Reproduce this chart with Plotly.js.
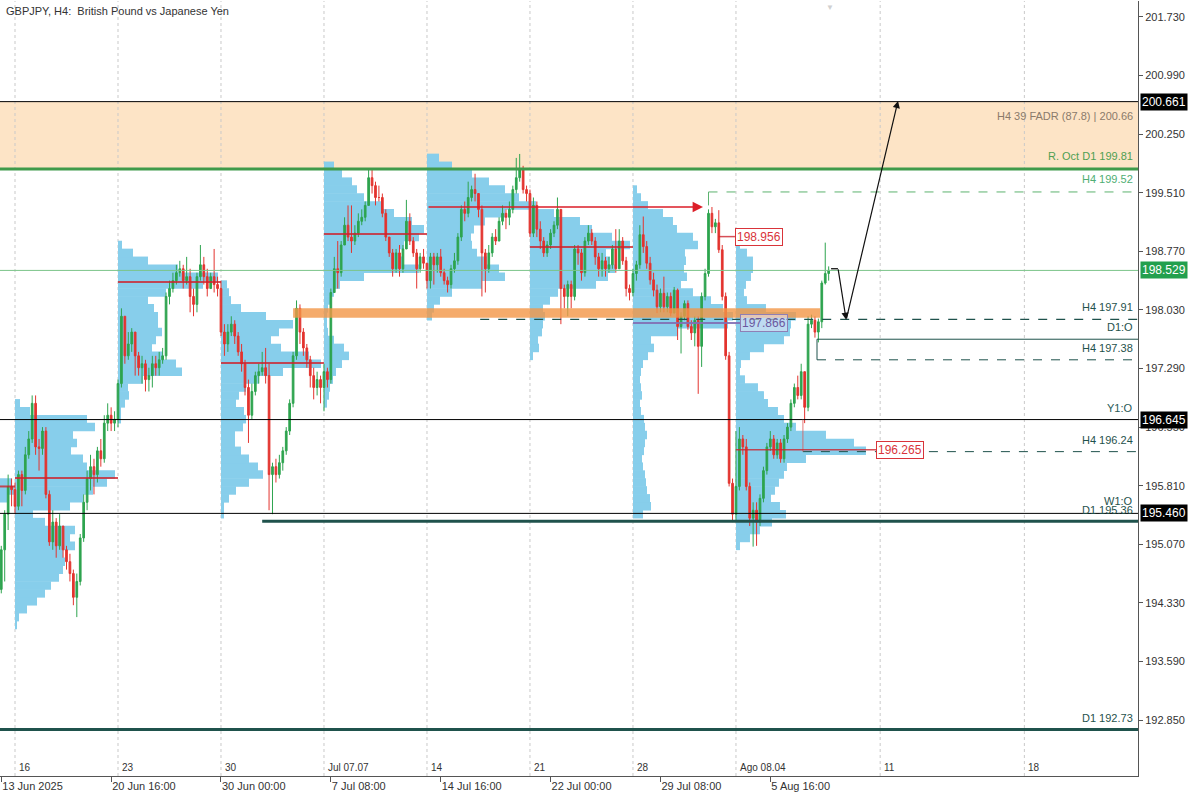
<!DOCTYPE html>
<html><head><meta charset="utf-8">
<script src="https://cdn.plot.ly/plotly-3.0.1.min.js"></script>
<style>html,body{margin:0;padding:0;background:#fff}#chart{width:1200px;height:800px}</style>
</head><body><div id="chart"></div>
<script>
// ---------------- DATA ----------------
// H4 bars, index 0 = Mon 16 Jun 2025 00:00 (30 bars per trading week)
const barIndexStart = -4;
const firstOpen = 194.50;
const closes = [
195.00,195.45,195.80,195.76,
195.55,195.95,195.75,196.20,196.40,196.85,196.30,196.28,196.50,195.70,
195.10,195.35,195.05,195.30,195.00,194.85,194.70,194.40,194.60,195.15,
195.60,195.90,196.05,195.95,196.25,196.15,196.60,196.70,196.60,196.65,
197.10,197.95,197.45,197.60,197.75,197.45,197.30,197.35,197.15,197.20,
197.35,197.30,197.40,197.45,198.20,198.30,198.40,198.50,198.55,198.40,
198.45,198.20,198.10,198.45,198.60,198.45,198.30,198.45,198.35,198.30,
197.75,197.60,197.75,197.85,197.70,197.50,197.35,197.05,196.70,197.00,
197.20,197.25,197.30,197.20,195.95,196.05,195.95,196.10,196.25,196.50,
196.85,197.45,198.05,197.75,197.55,197.40,197.20,197.05,197.15,197.05,
197.25,197.15,198.25,198.55,198.50,198.85,199.10,198.95,198.90,199.00,
199.15,199.20,199.35,199.70,199.60,199.45,199.45,199.25,198.95,198.75,
198.55,198.75,198.55,198.80,199.15,198.90,198.75,198.55,198.70,198.62,
198.40,198.70,198.60,198.70,198.50,198.40,198.35,198.55,198.65,198.95,
199.30,199.25,199.45,199.55,199.50,199.30,198.75,198.55,198.75,198.95,
198.90,199.15,199.25,199.20,199.30,199.55,199.70,199.80,199.55,199.50,
199.00,199.35,199.05,198.90,198.75,198.85,199.00,199.10,199.30,198.30,
198.20,198.35,198.20,198.80,198.75,198.50,198.90,199.00,198.90,198.70,
198.55,198.65,198.55,198.60,198.80,198.55,198.90,198.65,198.30,198.25,
198.49,198.60,198.98,198.83,198.62,198.41,198.28,198.07,198.24,198.07,
198.20,197.99,198.28,197.82,197.95,198.11,197.82,197.74,197.90,197.57,
198.20,198.49,199.25,199.08,199.13,198.79,198.20,197.45,195.84,195.45,
195.80,196.40,196.30,195.80,195.40,195.50,195.35,195.65,196.00,196.30,
196.40,196.20,196.35,196.15,196.40,196.55,196.85,197.05,196.95,197.25,
196.80,197.85,197.90,197.75,197.88,198.37,198.49,198.53];
const highs = [
195.05,195.50,195.95,195.90,
195.85,196.00,196.00,196.30,196.50,196.95,196.95,196.40,196.55,196.55,
195.75,195.50,195.40,195.45,195.30,195.05,194.95,194.75,194.70,195.20,
195.70,196.00,196.20,196.15,196.30,196.40,196.70,196.85,196.80,196.75,
197.15,198.05,197.95,197.75,197.80,197.75,197.50,197.45,197.40,197.30,
197.45,197.45,197.50,197.55,198.25,198.40,198.50,198.60,198.65,198.60,
198.70,198.55,198.30,198.50,198.85,198.70,198.55,198.50,198.80,198.45,
198.40,197.85,197.85,197.95,197.90,197.75,197.60,197.40,197.15,197.10,
197.25,197.35,197.50,197.55,197.35,196.10,196.15,196.20,196.30,196.55,
196.90,197.50,198.15,198.10,197.80,197.60,197.45,197.30,197.25,197.20,
197.35,197.30,198.30,198.70,198.90,198.90,199.20,199.35,199.35,199.10,
199.25,199.30,199.40,199.80,199.80,199.65,199.60,199.50,199.30,198.95,
198.80,198.80,198.85,198.85,199.42,199.25,198.95,198.80,198.75,198.80,
198.62,198.75,198.75,198.75,198.80,198.55,198.45,198.60,198.75,199.00,
199.35,199.40,199.65,199.60,199.75,199.50,199.35,198.80,198.85,199.00,
199.05,199.20,199.35,199.30,199.40,199.60,199.95,200.00,199.85,199.60,
199.55,199.45,199.40,199.15,198.95,198.90,199.05,199.15,199.45,199.30,
198.35,198.40,198.40,198.85,198.85,198.80,198.95,199.10,199.05,198.95,
198.75,198.75,198.70,198.70,198.85,199.05,199.05,198.95,198.70,198.35,
198.55,198.65,199.10,199.21,198.90,198.70,198.50,198.35,198.30,198.45,
198.25,198.25,198.32,198.30,198.00,198.15,198.15,197.90,197.95,197.95,
198.25,198.55,199.30,199.33,199.18,199.29,198.85,198.25,197.50,195.90,
196.50,196.55,196.45,196.40,195.85,195.60,195.60,195.70,196.05,196.35,
196.50,196.45,196.40,196.40,196.45,196.60,196.90,197.10,197.20,197.35,
197.25,197.95,197.97,197.95,197.92,198.40,198.88,198.58];
const lows = [
194.45,194.60,195.25,195.55,
195.45,195.50,195.55,195.70,196.15,196.35,196.20,196.00,196.20,195.65,
195.05,195.00,194.90,195.00,194.90,194.75,194.60,194.30,194.15,194.55,
195.10,195.50,195.75,195.70,195.85,196.05,196.10,196.50,196.50,196.50,
196.55,197.05,197.35,197.40,197.50,197.20,197.20,197.10,197.00,197.00,
197.05,197.20,197.20,197.35,197.40,198.10,198.25,198.35,198.45,198.30,
198.35,198.00,197.95,198.00,198.40,198.35,198.20,198.30,198.25,198.20,
197.70,197.45,197.50,197.70,197.60,197.45,197.25,196.95,196.35,196.65,
196.95,197.10,197.20,197.10,195.50,195.45,195.85,195.90,196.00,196.20,
196.45,196.80,197.40,197.60,197.45,197.30,197.05,196.90,196.95,196.85,
196.75,197.05,197.10,198.25,198.30,198.45,198.85,198.90,198.75,198.85,
198.95,199.10,199.15,199.35,199.50,199.35,199.40,199.20,198.90,198.70,
198.45,198.50,198.45,198.50,198.80,198.85,198.70,198.30,198.50,198.55,
198.30,198.30,198.35,198.50,198.45,198.35,198.25,198.30,198.50,198.60,
198.90,199.15,199.20,199.40,199.40,199.20,198.20,198.25,198.50,198.70,
198.85,198.90,199.10,199.05,199.10,199.25,199.50,199.65,199.50,199.40,
198.95,198.95,198.95,198.80,198.70,198.70,198.80,198.95,199.05,197.85,
198.05,197.95,198.05,198.15,198.60,198.40,198.45,198.85,198.85,198.60,
198.45,198.45,198.45,198.50,198.55,198.50,198.55,198.60,198.20,198.15,
198.20,198.40,198.55,198.75,198.55,198.35,198.20,197.99,198.00,198.00,
198.00,197.95,198.00,197.65,197.48,197.90,197.78,197.65,197.57,196.97,
197.31,198.15,198.45,199.00,199.00,198.75,198.15,197.40,195.80,195.35,
195.35,195.75,196.20,195.75,195.30,195.04,195.05,195.30,195.60,195.95,
196.25,196.15,196.15,196.10,196.10,196.35,196.50,196.80,196.90,196.90,
196.60,196.75,197.80,197.68,197.62,197.80,198.35,198.40];

// Weekly volume profiles (start bar index, price levels, relative volume)
const profileStarts = [-30, 0, 30, 60, 90, 120, 150, 180, 210];
const p0Levels = [195.65,195.75,195.85];
const p0Vols = [95,102,100];
const p1Levels = [194.05,194.15,194.25,194.35,194.45,194.55,194.65,194.75,194.85,194.95,195.05,195.15,195.25,195.35,195.45,195.55,195.65,195.75,195.85,195.95,196.05,196.15,196.25,196.35,196.45,196.55,196.65,196.75,196.85];
const p1Vols = [2,4,12,22,30,36,44,48,50,48,60,55,60,30,18,55,68,78,92,100,72,68,56,62,58,80,72,15,5];
const p2Levels = [196.65,196.75,196.85,196.95,197.05,197.15,197.25,197.35,197.45,197.55,197.65,197.75,197.85,197.95,198.05,198.15,198.25,198.35,198.45,198.55,198.65,198.75,198.85];
const p2Vols = [3,3,7,11,10,25,64,58,45,34,38,44,40,40,36,30,48,85,100,60,30,15,4];
const p3Levels = [195.45,195.55,195.65,195.75,195.85,195.95,196.05,196.15,196.25,196.35,196.45,196.55,196.65,196.75,196.85,196.95,197.05,197.15,197.25,197.35,197.45,197.55,197.65,197.75,197.85,197.95,198.05,198.15,198.25,198.35];
const p3Vols = [3,3,8,15,28,42,37,28,20,14,14,22,25,23,15,18,25,38,62,100,88,60,50,58,72,45,20,10,8,6];
const p4Levels = [196.85,196.95,197.05,197.15,197.25,197.35,197.45,197.55,197.65,197.75,197.85,197.95,198.05,198.15,198.25,198.35,198.45,198.55,198.65,198.75,198.85,198.95,199.05,199.15,199.25,199.35,199.45,199.55,199.65,199.75,199.85];
const p4Vols = [3,5,6,9,12,18,25,20,10,4,3,3,4,6,10,16,40,95,78,75,80,95,100,88,70,58,40,33,28,18,10];
const p5Levels = [197.95,198.05,198.15,198.25,198.35,198.45,198.55,198.65,198.75,198.85,198.95,199.05,199.15,199.25,199.35,199.45,199.55,199.65,199.75,199.85,199.95];
const p5Vols = [5,7,13,25,55,78,72,60,50,45,44,47,58,78,102,92,78,62,45,25,12];
const p6Levels = [197.45,197.55,197.65,197.75,197.85,197.95,198.05,198.15,198.25,198.35,198.45,198.55,198.65,198.75,198.85,198.95,199.05,199.15,199.25,199.35];
const p6Vols = [3,9,8,12,13,15,13,20,28,66,78,85,80,76,100,82,62,50,24,6];
const p7Levels = [195.45,195.55,195.65,195.75,195.85,195.95,196.05,196.15,196.25,196.35,196.45,196.55,196.65,196.75,196.85,196.95,197.05,197.15,197.25,197.35,197.45,197.55,197.65,197.75,197.85,197.95,198.05,198.15,198.25,198.35,198.45,198.55,198.65,198.75,198.85,198.95,199.05,199.15,199.25,199.35,199.45,199.55];
const p7Vols = [10,18,17,14,13,12,10,9,11,12,14,12,11,8,7,9,8,7,8,10,15,21,18,45,95,100,90,78,60,48,54,51,53,52,65,60,44,40,30,15,8,4];
const p8Levels = [195.05,195.15,195.25,195.35,195.45,195.55,195.65,195.75,195.85,195.95,196.05,196.15,196.25,196.35,196.45,196.55,196.65,196.75,196.85,196.95,197.05,197.15,197.25,197.35,197.45,197.55,197.65,197.75,197.85,197.95,198.05,198.15,198.25,198.35,198.45,198.55,198.65,198.75,198.85];
const p8Vols = [4,14,24,36,50,44,35,39,43,48,51,70,130,118,90,60,48,42,32,28,22,9,4,5,14,28,48,54,55,60,30,11,8,10,15,17,17,11,4];

// Weekly points of control
const pocPrices = [195.80,195.907,198.383,197.36,198.99,199.33,198.825,197.866,196.265];

// Key levels
const fadrTop = 200.661, octRes = 199.81, h4Upper = 199.52, lastPrice = 198.529;
const h4Mid = 197.91, d1Open = 197.66, h4Low1 = 197.38, y1Open = 196.645;
const h4Low2 = 196.24, w1Open = 195.46, d1Sup = 195.36, d1Deep = 192.73;
const weeklyHigh = 198.956;
const orangeZone = [197.93, 198.05];
const projectionPath = [198.56, 197.905, 200.67];

// Axis labels
const yTicks = [192.85,193.59,194.33,195.07,195.81,196.55,197.29,198.03,198.77,199.51,200.25,200.99,201.73];
const dateTickIdx = [-4,28,60,92,124,156,188,220];
const dateTickText = ['13 Jun 2025','20 Jun 16:00','30 Jun 00:00','7 Jul 08:00','14 Jul 16:00','22 Jul 00:00','29 Jul 08:00','5 Aug 16:00'];
const weekIdx = [0,30,60,90,120,150,180,210,252,294];
const weekText = ['16','23','30','Jul 07.07','14','21','28','Ago 08.04','11','18'];

// ---------------- BUILD ----------------
const PX_PER_BAR = 3.433;
const idx = closes.map((_, k) => barIndexStart + k);
const opens = closes.map((c, k) => k === 0 ? firstOpen : closes[k - 1]);
const hi = highs.map((h, k) => Math.max(h, opens[k], closes[k]));
const lo = lows.map((l, k) => Math.min(l, opens[k], closes[k]));

const profLevels = [p0Levels,p1Levels,p2Levels,p3Levels,p4Levels,p5Levels,p6Levels,p7Levels,p8Levels];
const profVols = [p0Vols,p1Vols,p2Vols,p3Vols,p4Vols,p5Vols,p6Vols,p7Vols,p8Vols];

const traces = [];
profLevels.forEach((lv, k) => {
  traces.push({
    type: 'bar', orientation: 'h', y: lv,
    x: profVols[k].map(v => v / PX_PER_BAR),
    base: profileStarts[k], width: 0.108,
    marker: {color: '#87CEEB', line: {width: 0}},
    hoverinfo: 'skip', showlegend: false
  });
});
traces.push({
  type: 'candlestick', x: idx, open: opens, high: hi, low: lo, close: closes,
  increasing: {line: {color: '#2ea44f', width: 1}, fillcolor: '#2ea44f'},
  decreasing: {line: {color: '#e3342f', width: 1}, fillcolor: '#e3342f'},
  whiskerwidth: 0, hoverinfo: 'skip', showlegend: false
});

const TEAL = '#1f524c';
const shapes = [];
shapes.push({type:'rect', xref:'paper', x0:0, x1:1, y0:octRes, y1:fadrTop,
  fillcolor:'rgb(253,228,198)', line:{width:0}, layer:'below'});
weekIdx.forEach(w => shapes.push({type:'line', x0:w, x1:w, yref:'paper', y0:0, y1:1,
  line:{color:'#c9c9c9', width:1, dash:'dot'}, layer:'below'}));

function hl(y, x0, x1, color, width, dash, xref) {
  shapes.push({type:'line', xref: xref || 'x', x0, x1, y0:y, y1:y,
    line:{color, width, dash: dash || 'solid'}, layer:'above'});
}
function vl(x, y0, y1, color, width) {
  shapes.push({type:'line', x0:x, x1:x, y0, y1, line:{color, width}, layer:'above'});
}
// orange zone
shapes.push({type:'rect', x0:81, x1:234.5, y0:orangeZone[0], y1:orangeZone[1],
  fillcolor:'rgba(243,150,70,0.8)', line:{width:0}, layer:'above'});
// key levels
hl(fadrTop, 0, 1, '#000', 1, 'solid', 'paper');
hl(octRes, 0, 1, '#3f9a4a', 3, 'solid', 'paper');
hl(h4Upper, 202, 1e3, '#5cb36f', 1, 'dash');
vl(202, h4Upper, 199.35, '#5cb36f', 1);
hl(lastPrice, 0, 1, '#7cc48a', 1, 'solid', 'paper');
hl(h4Mid, 135.5, 1e3, TEAL, 1.2, 'dash');
hl(d1Open, 233.6, 1e3, TEAL, 1);
vl(233.6, d1Open, h4Low1 + 0.02, TEAL, 1);
hl(h4Low1 + 0.02, 233.6, 1e3, TEAL, 1, 'dash');
hl(y1Open, 0, 1, '#000', 1, 'solid', 'paper');
hl(h4Low2, 229.5, 1e3, TEAL, 1, 'dash');
vl(229.5, y1Open, h4Low2, 'rgba(220,90,90,0.8)', 1);
hl(w1Open, 0, 1, '#000', 1, 'solid', 'paper');
hl(d1Sup, 72, 1e3, TEAL, 3);
hl(d1Deep, 0, 1, TEAL, 3, 'solid', 'paper');
// POC lines
const POC_RED = 'rgba(205,35,45,0.8)';
hl(pocPrices[0], -6, 0, POC_RED, 2);
for (let k = 1; k <= 4; k++) hl(pocPrices[k], profileStarts[k], profileStarts[k] + 30, POC_RED, 2);
hl(pocPrices[6], 150, 180, POC_RED, 2);
hl(pocPrices[7], 180, 211.2, 'rgba(130,110,180,0.9)', 2);
hl(pocPrices[8], 210, 250.8, POC_RED, 1.5);
hl(weeklyHigh, 205, 209.7, POC_RED, 1.5);
hl(198.55, 237.7, 239.7, '#000', 1.2);

const annotations = [];
annotations.push({xref:'paper', yref:'paper', x:0, y:1, xanchor:'left', yanchor:'top', xshift:4, yshift:-2,
  text:'GBPJPY, H4:\u00a0 British Pound vs Japanese Yen', showarrow:false,
  font:{family:'Liberation Sans, Arial', size:11, color:'#333'}});
annotations.push({x:237.4, yref:'paper', y:1, yanchor:'top', text:'\u25BC', showarrow:false,
  font:{size:8, color:'#d0d0d0'}});
// red arrow (week POC projection)
annotations.push({x:200.4, y:pocPrices[5], ax:120, ay:pocPrices[5], axref:'x', ayref:'y',
  showarrow:true, arrowhead:2, arrowsize:1.6, arrowwidth:1.3, arrowcolor:'rgb(220,30,40)', text:''});
// black projection arrows
annotations.push({x:242.1, y:projectionPath[1], ax:239.7, ay:projectionPath[0], axref:'x', ayref:'y',
  showarrow:true, arrowhead:2, arrowsize:1.2, arrowwidth:1.2, arrowcolor:'#111', text:''});
annotations.push({x:257.2, y:projectionPath[2], ax:242.1, ay:projectionPath[1], axref:'x', ayref:'y',
  showarrow:true, arrowhead:2, arrowsize:1.2, arrowwidth:1.2, arrowcolor:'#111', text:''});
// value boxes on chart
function box(x, y, text, border, color, bg) {
  annotations.push({x, y, xanchor:'left', yanchor:'middle', text, showarrow:false,
    bgcolor:bg, bordercolor:border, borderwidth:1, borderpad:1,
    font:{family:'Liberation Sans, Arial', size:12, color}});
}
box(209.7, weeklyHigh, '198.956', '#d9343a', '#d9343a', '#fff');
box(211.2, pocPrices[7], '197.866', '#8f7fb5', '#6b58a0', 'rgba(235,230,245,0.55)');
box(250.8, pocPrices[8], '196.265', '#d9343a', '#d9343a', '#fff');
// right-side level labels
function lab(text, y, color, anchor, shift) {
  annotations.push({xref:'paper', x:1, xanchor:'right', xshift:-3, y, yanchor:anchor, yshift:shift,
    text, showarrow:false, font:{family:'Liberation Sans, Arial', size:11, color}});
}
lab('H4 39 FADR (87.8) | 200.66', fadrTop, '#8a7a6a', 'top', -6);
lab('R. Oct D1 199.81', octRes, '#4f9f52', 'bottom', 5);
lab('H4 199.52', h4Upper, '#4fae73', 'bottom', 5);
lab('H4 197.91', h4Mid, TEAL, 'bottom', 4);
lab('D1:O', d1Open, TEAL, 'bottom', 4);
lab('H4 197.38', h4Low1 + 0.02, TEAL, 'bottom', 4);
lab('Y1:O', y1Open, '#2a5a56', 'bottom', 4);
lab('H4 196.24', h4Low2, TEAL, 'bottom', 4);
lab('W1:O', w1Open, TEAL, 'bottom', 4);
lab('D1 195.36', d1Sup, TEAL, 'bottom', 3);
lab('D1 192.73', d1Deep, TEAL, 'bottom', 4);
// right axis price boxes
function pbox(y, text, bg) {
  annotations.push({xref:'paper', x:1, xanchor:'left', xshift:2, y, yanchor:'middle', text,
    showarrow:false, bgcolor:bg, borderpad:1,
    font:{family:'Liberation Sans, Arial', size:12, color:'#fff'}});
}
pbox(fadrTop, '200.661', '#000');
pbox(lastPrice, '198.529', '#23a04e');
pbox(y1Open, '196.645', '#000');
pbox(w1Open, '195.460', '#000');
// week labels inside plot
weekIdx.forEach((w, k) => annotations.push({x:w, xanchor:'left', xshift:2, yref:'paper', y:0,
  yanchor:'bottom', yshift:1, text:weekText[k], showarrow:false,
  font:{family:'Liberation Sans, Arial', size:10, color:'#333'}}));

const layout = {
  width:1200, height:800, margin:{l:0, r:62, t:1, b:24},
  paper_bgcolor:'#fff', plot_bgcolor:'#fff', barmode:'overlay', showlegend:false,
  font:{family:'Liberation Sans, Arial', size:11, color:'#333'},
  xaxis:{range:[-4.37, 327.1], rangeslider:{visible:false}, showgrid:false, zeroline:false,
    tickmode:'array', tickvals:dateTickIdx, ticktext:dateTickText, ticks:'outside', ticklen:5,
    tickcolor:'#555', ticklabelposition:'outside right', showline:true, linecolor:'#555', linewidth:1,
    tickfont:{family:'Liberation Sans, Arial', size:11, color:'#333'}, fixedrange:true},
  yaxis:{range:[192.143, 201.932], side:'right', showgrid:false, zeroline:false,
    tickmode:'array', tickvals:yTicks, ticktext:yTicks.map(v => v.toFixed(3)), ticks:'outside', ticklen:4,
    tickcolor:'#555', showline:true, linecolor:'#555', linewidth:1, mirror:true,
    tickfont:{family:'Liberation Sans, Arial', size:11, color:'#333'}, fixedrange:true},
  shapes, annotations
};
Plotly.newPlot('chart', traces, layout, {staticPlot:true, displayModeBar:false});
</script></body></html>
